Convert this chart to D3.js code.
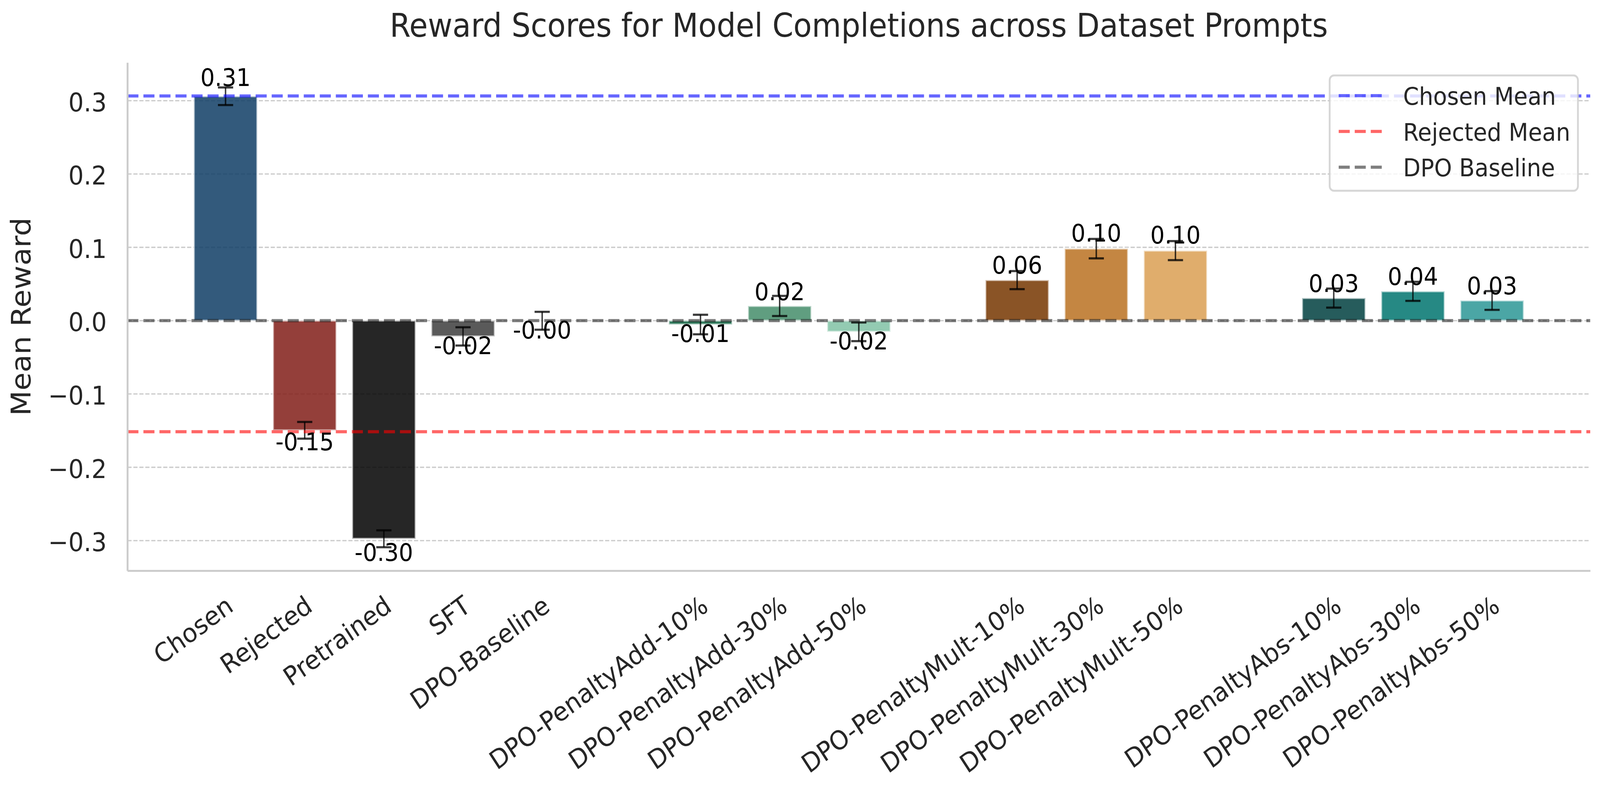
<!DOCTYPE html>
<html>
<head>
<meta charset="utf-8">
<script src="https://cdn.jsdelivr.net/npm/d3@7"></script>
<style>
  html, body { margin: 0; padding: 0; background: #ffffff; overflow: hidden; }
  #chart svg { display: block; width: 100vw; height: 100vh; }
  text { font-family: "DejaVu Sans", sans-serif; }
</style>
</head>
<body>
<div id="chart"></div>
<script>
// Frame size and plot area (pixels)
const FRAME_WIDTH = 4421;
const FRAME_HEIGHT = 2016;
const PLOT = {left: 352, right: 4394, top: 160, bottom: 1460};

// ---- data ----
// slots along the x axis, gaps separate the groups
const slots = ["Chosen", "Rejected", "Pretrained", "SFT", "DPO-Baseline", "gap1",
               "DPO-PenaltyAdd-10%", "DPO-PenaltyAdd-30%", "DPO-PenaltyAdd-50%", "gap2",
               "DPO-PenaltyMult-10%", "DPO-PenaltyMult-30%", "DPO-PenaltyMult-50%", "gap3",
               "DPO-PenaltyAbs-10%", "DPO-PenaltyAbs-30%", "DPO-PenaltyAbs-50%"];
const categories = ["Chosen", "Rejected", "Pretrained", "SFT", "DPO-Baseline",
                    "DPO-PenaltyAdd-10%", "DPO-PenaltyAdd-30%", "DPO-PenaltyAdd-50%",
                    "DPO-PenaltyMult-10%", "DPO-PenaltyMult-30%", "DPO-PenaltyMult-50%",
                    "DPO-PenaltyAbs-10%", "DPO-PenaltyAbs-30%", "DPO-PenaltyAbs-50%"];
const meanReward = [0.306, -0.1496, -0.2975, -0.0215, -0.0002,
                    -0.0053, 0.0200, -0.0152,
                    0.0553, 0.0982, 0.0955,
                    0.0308, 0.0400, 0.0275];
const stdErr = [0.0120, 0.0114, 0.0115, 0.0125, 0.0122,
                0.0133, 0.0137, 0.0127,
                0.0123, 0.0133, 0.0130,
                0.0130, 0.0130, 0.0128];
const barColors = ["#0f3d65", "#811d17", "#000000", "#3d3d3d", "#555555",
                   "#09603d", "#448d6a", "#80c2a4",
                   "#763600", "#ba7121", "#da9f52",
                   "#003f3f", "#00746f", "#2b9795"];
const yTicks = [-0.3, -0.2, -0.1, 0.0, 0.1, 0.2, 0.3];

// reference lines shown in the legend
const refLabels = ["Chosen Mean", "Rejected Mean", "DPO Baseline"];
const refValues = [0.3064, -0.1515, 0.0];
const refColors = ["#0000ff", "#ff0000", "#000000"];
const refOpacity = [0.6, 0.6, 0.5];

const bars = categories.map((c, i) => ({
  name: c, value: meanReward[i], err: stdErr[i], color: barColors[i]
}));

// ---- svg ----
// the drawing is laid out at 4421x2016 and stretched to fill the window
const svg = d3.select("#chart")
  .append("svg")
    .attr("viewBox", "0 0 " + FRAME_WIDTH + " " + FRAME_HEIGHT)
    .attr("preserveAspectRatio", "none");

svg.append("rect")
  .attr("width", FRAME_WIDTH)
  .attr("height", FRAME_HEIGHT)
  .attr("fill", "#ffffff");

// scales
const X_SCALE = d3.scalePoint()
  .domain(slots)
  .range([PLOT.left, PLOT.right])
  .padding(1.24);

const Y_SCALE = d3.scaleLinear()
  .domain([-0.341, 0.352])
  .range([PLOT.bottom, PLOT.top]);

const BAR_W = X_SCALE.step() * 0.8;

// horizontal grid lines (behind the bars)
svg.append("g")
  .selectAll("line")
  .data(yTicks)
  .enter()
  .append("line")
    .attr("x1", PLOT.left)
    .attr("x2", PLOT.right)
    .attr("y1", d => Y_SCALE(d))
    .attr("y2", d => Y_SCALE(d))
    .attr("stroke", "#cccccc")
    .attr("stroke-width", 3.3)
    .attr("stroke-dasharray", "11.5,5");

// bars
svg.append("g")
  .selectAll("rect")
  .data(bars)
  .enter()
  .append("rect")
    .attr("x", d => X_SCALE(d.name) - BAR_W / 2)
    .attr("y", d => Math.min(Y_SCALE(d.value), Y_SCALE(0)))
    .attr("width", BAR_W)
    .attr("height", d => Math.abs(Y_SCALE(d.value) - Y_SCALE(0)))
    .attr("fill", d => d.color)
    .attr("fill-opacity", 0.85)
    .attr("stroke", "#ffffff")
    .attr("stroke-opacity", 0.6)
    .attr("stroke-width", 5);

// error bars
const errG = svg.append("g")
  .attr("stroke", "#000000")
  .attr("stroke-opacity", 0.77);

errG.selectAll(".stem")
  .data(bars)
  .enter()
  .append("line")
    .attr("class", "stem")
    .attr("x1", d => X_SCALE(d.name))
    .attr("x2", d => X_SCALE(d.name))
    .attr("y1", d => Y_SCALE(d.value + d.err))
    .attr("y2", d => Y_SCALE(d.value - d.err))
    .attr("stroke-width", 4);

errG.selectAll(".cap")
  .data(bars.flatMap(d => [
    {name: d.name, y: d.value + d.err},
    {name: d.name, y: d.value - d.err}
  ]))
  .enter()
  .append("line")
    .attr("class", "cap")
    .attr("x1", d => X_SCALE(d.name) - 21)
    .attr("x2", d => X_SCALE(d.name) + 21)
    .attr("y1", d => Y_SCALE(d.y))
    .attr("y2", d => Y_SCALE(d.y))
    .attr("stroke-width", 5.5);

// reference lines (on top of the bars)
svg.append("g")
  .selectAll("line")
  .data(refValues)
  .enter()
  .append("line")
    .attr("x1", PLOT.left)
    .attr("x2", PLOT.right)
    .attr("y1", d => Y_SCALE(d))
    .attr("y2", d => Y_SCALE(d))
    .attr("stroke", (d, i) => refColors[i])
    .attr("stroke-opacity", (d, i) => refOpacity[i])
    .attr("stroke-width", 8)
    .attr("stroke-dasharray", "30.5,13.8");

// value labels above / below each bar
const fmt = v => (v < 0 ? "-" : "") + Math.abs(v).toFixed(2);
svg.append("g")
  .selectAll("text")
  .data(bars)
  .enter()
  .append("text")
    .attr("x", d => X_SCALE(d.name))
    .attr("y", d => d.value >= 0 ? Y_SCALE(d.value * 1.02) - 14.5
                                 : Y_SCALE(d.value * 1.02) + 45)
    .attr("text-anchor", "middle")
    .attr("font-size", "62.5px")
    .attr("fill", "#000000")
    .text(d => fmt(d.value));

// y axis (left spine + tick labels)
const yAxis = svg.append("g")
  .attr("transform", "translate(" + PLOT.left + ",0)")
  .call(d3.axisLeft(Y_SCALE)
          .tickValues(yTicks)
          .tickFormat(d3.format(".1f"))
          .tickSize(0)
          .tickSizeOuter(0)
          .tickPadding(57));
yAxis.select(".domain")
  .attr("stroke", "#cccccc")
  .attr("stroke-width", 5.2);
yAxis.selectAll("text")
  .attr("font-size", "66.7px")
  .attr("fill", "#262626")
  .attr("dy", "0.40em");

// x axis (bottom spine + rotated labels)
const xAxis = svg.append("g")
  .attr("transform", "translate(0," + PLOT.bottom + ")")
  .call(d3.axisBottom(X_SCALE)
          .tickValues(categories)
          .tickSize(0)
          .tickSizeOuter(0));
xAxis.select(".domain")
  .attr("stroke", "#cccccc")
  .attr("stroke-width", 5.2);
xAxis.selectAll("text")
  .attr("font-size", "66.7px")
  .attr("fill", "#262626")
  .attr("text-anchor", "end")
  .attr("x", 0)
  .attr("y", 0)
  .attr("dy", 0)
  .attr("transform", "translate(25,100) rotate(-35)");

// y axis label
svg.append("text")
  .attr("transform", "translate(84," + ((PLOT.top + PLOT.bottom) / 2) + ") rotate(-90)")
  .attr("text-anchor", "middle")
  .attr("font-size", "75px")
  .attr("fill", "#262626")
  .text("Mean Reward");

// title
svg.append("text")
  .attr("x", (PLOT.left + PLOT.right) / 2)
  .attr("y", 94)
  .attr("text-anchor", "middle")
  .attr("font-size", "83.3px")
  .attr("fill", "#262626")
  .text("Reward Scores for Model Completions across Dataset Prompts");

// legend
const LEG = {x: 3674, y: 193, w: 686, h: 295};
const legend = svg.append("g");
legend.append("rect")
  .attr("x", LEG.x)
  .attr("y", LEG.y)
  .attr("width", LEG.w)
  .attr("height", LEG.h)
  .attr("rx", 12)
  .attr("fill", "#ffffff")
  .attr("fill-opacity", 0.8)
  .attr("stroke", "#cccccc")
  .attr("stroke-opacity", 0.8)
  .attr("stroke-width", 5);

const legendRows = legend.selectAll(".row")
  .data(refLabels)
  .enter()
  .append("g")
    .attr("class", "row")
    .attr("transform", (d, i) => "translate(0," + (244.7 + i * 91.5) + ")");

legendRows.append("line")
  .attr("x1", 3699)
  .attr("x2", 3818)
  .attr("stroke", (d, i) => refColors[i])
  .attr("stroke-opacity", (d, i) => refOpacity[i])
  .attr("stroke-width", 8)
  .attr("stroke-dasharray", "30.5,13.8");

legendRows.append("text")
  .attr("x", 3877)
  .attr("y", 23.5)
  .attr("font-size", "62.5px")
  .attr("fill", "#262626")
  .text(d => d);
</script>
</body>
</html>
